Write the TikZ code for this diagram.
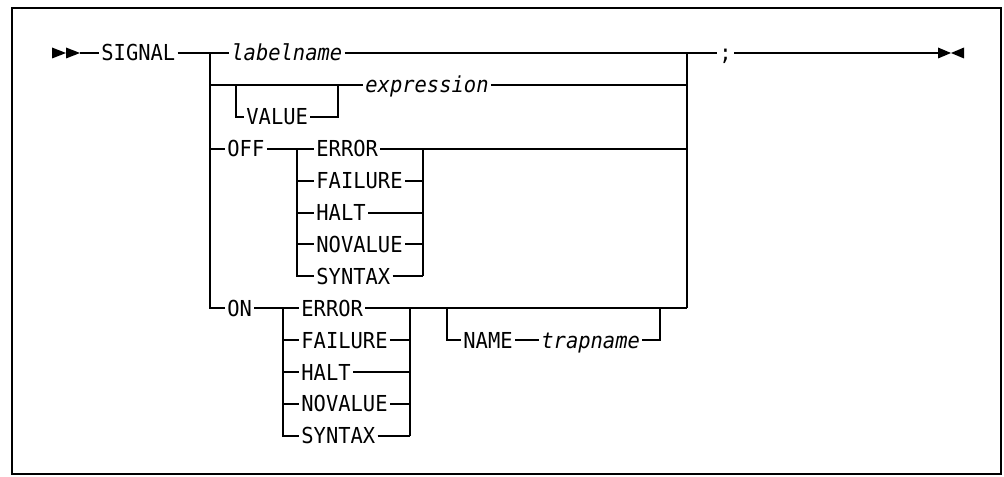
\documentclass[tikz,border=0pt]{standalone}
\usepackage{fontspec}
\setmonofont[FakeStretch=0.93]{DejaVu Sans Mono}
\usetikzlibrary{positioning,calc}

\begin{document}
\begin{tikzpicture}[x=0.5pt, y=-0.5pt,
  kw/.style={anchor=west, inner xsep=1pt, inner ysep=0pt, text height=8pt, text depth=0pt,
    font=\ttfamily\fontsize{11}{13}\selectfont},
  var/.style={kw, font=\ttfamily\itshape\fontsize{11}{13}\selectfont},
  rail/.style={draw=black, line width=1pt},
  frame/.style={draw=black, line width=1.2pt}]
\useasboundingbox (0,0) rectangle (1004,476);
\draw[frame] (12,8) rectangle (1001,474);
% start and end of the statement
\fill (52,47.5) -- (66,53) -- (52,58.5) -- cycle;
\fill (66,47.5) -- (80,53) -- (66,58.5) -- cycle;
\coordinate (begin) at (80,53);
\node[kw] (signal) at (99,53) {SIGNAL};
\coordinate (jl) at (210,53);
\coordinate (jr) at (687,53);
\coordinate (jrOn) at (687,{53+8*31.9});
\node[var] (labelname) at (229,53) {labelname};
\node[kw] (semi) at (717,53) {;};
\coordinate (finish) at (938,53);
\fill (938,47.5) -- (951,53) -- (938,58.5) -- cycle;
\fill (964,47.5) -- (951,53) -- (964,58.5) -- cycle;
\draw[rail] (begin) -- (signal.west);
\draw[rail] (signal.east) -- (labelname.west);
\draw[rail] (labelname.east) -- (semi.west);
\draw[rail] (semi.east) -- (finish);
\draw[rail] (jr) -- (jrOn);
% VALUE expression
\node[var] (expr) at (363,{53+31.9}) {expression};
\node[kw] (value) at (244,{53+2*31.9}) {VALUE};
\coordinate (vl) at (236,{53+31.9});
\coordinate (vr) at (338,{53+31.9});
\draw[rail] (expr.west -| jl) -- (expr.west);
\draw[rail] (expr.east) -- (expr.east -| jr);
\draw[rail] (vl) |- (value.west);
\draw[rail] (value.east) -| (vr);
% OFF condition
\node[kw] (off) at (225,{53+3*31.9}) {OFF};
\coordinate (offl) at (297,{53+3*31.9});
\coordinate (offr) at (423,{53+3*31.9});
\draw[rail] (off.west -| jl) -- (off.west);
\draw[rail] (off.east) -- (offl);
\foreach \w [count=\i from 0] in {ERROR,FAILURE,HALT,NOVALUE,SYNTAX} {
  \node[kw] (off\w) at (314,{53+(3+\i)*31.9}) {\w};
  \draw[rail] (offl) |- (off\w.west);
  \draw[rail] (off\w.east) -- (off\w.east -| offr);
}
\draw[rail] (offr) -- (offr |- offSYNTAX.east);
\draw[rail] (offr) -- (offr -| jr);
% ON condition
\node[kw] (on) at (225,{53+8*31.9}) {ON};
\coordinate (onl) at (283,{53+8*31.9});
\coordinate (onr) at (410,{53+8*31.9});
\draw[rail] (jl) |- (on.west);
\draw[rail] (on.east) -- (onl);
\foreach \w [count=\i from 0] in {ERROR,FAILURE,HALT,NOVALUE,SYNTAX} {
  \node[kw] (on\w) at (299,{53+(8+\i)*31.9}) {\w};
  \draw[rail] (onl) |- (on\w.west);
  \draw[rail] (on\w.east) -- (on\w.east -| onr);
}
\draw[rail] (onr) -- (onr |- onSYNTAX.east);
\draw[rail] (onr) -- (jrOn);
% NAME trapname
\node[kw] (name) at (461,{53+9*31.9}) {NAME};
\node[var] (trapname) at (539,{53+9*31.9}) {trapname};
\coordinate (nl) at (447,{53+8*31.9});
\coordinate (nr) at (660,{53+8*31.9});
\draw[rail] (nl) |- (name.west);
\draw[rail] (name.east) -- (trapname.west);
\draw[rail] (trapname.east) -| (nr);
\end{tikzpicture}
\end{document}
